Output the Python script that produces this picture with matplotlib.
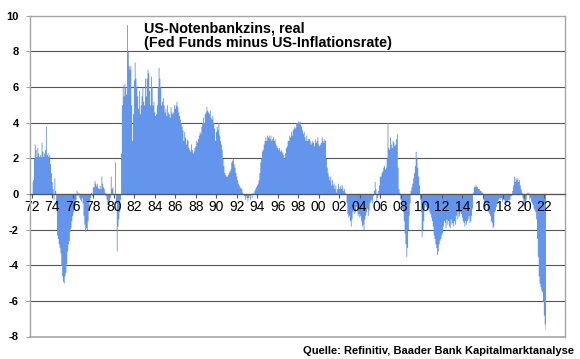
import numpy as np
import matplotlib
matplotlib.use('Agg')
import matplotlib.pyplot as plt

plt.rcParams['font.family'] = ['Liberation Sans', 'DejaVu Sans']

# =============================================================================
# Data: real Fed Funds rate (Fed Funds minus US inflation), monthly, in %
# =============================================================================
FIRST_YEAR = 1972

real_1970s = [
    0.7, 0.8, 2.0, 2.8, 2.5, 2.1, 2.6, 2.3, 2.1, 2.2, 2.1, 2.9,          # 1972
    2.4, 2.1, 2.3, 2.5, 3.8, 2.2, 2.3, 2.1, 2.2, 1.7, 1.2, 0.7,          # 1973
    0.3, -0.3, 0.9, 0.2, -0.6, -2.3, -2.5, -2.8, -3.0, -3.3, -4.0, -4.6, # 1974
    -4.9, -5.0, -4.6, -4.4, -3.9, -3.2, -2.8, -2.6, -2.1, -1.9, -1.5, -1.2,  # 1975
    -1.0, -0.8, -0.6, -0.3, 0.2, -0.1, 0.1, -0.2, -0.3, -0.4, -0.2, -0.5,    # 1976
    -1.2, -1.7, -2.1, -1.9, -2.0, -1.5, -0.9, -0.4, -0.2, 0.1, -0.1, 0.4,    # 1977
    0.4, 0.75, 0.6, 0.45, 0.6, 0.35, 0.3, 0.5, 0.3, 1.0, 0.6, 0.4,          # 1978
    0.3, 0.1, -0.1, -0.3, -0.6, -0.8, -0.5, -0.2, 1.0, 0.3, 0.4, 0.0,       # 1979
]
real_1980s = [
    0.0, 1.8, -0.5, -3.2, -1.8, -1.4, -1.0, -0.3, 2.3, 5.0, 6.1, 5.5,   # 1980
    6.2, 6.0, 5.6, 9.5, 8.0, 7.2, 7.0, 7.2, 5.0, 3.0, 4.5, 6.4,         # 1981
    7.4, 6.5, 6.0, 5.5, 4.8, 5.8, 4.5, 5.0, 5.5, 6.0, 5.2, 5.0,         # 1982
    6.5, 5.5, 6.5, 7.0, 6.8, 5.8, 5.0, 6.6, 6.0, 5.0, 5.2, 4.6,         # 1983
    4.4, 4.5, 5.0, 6.0, 7.1, 6.5, 6.0, 5.0, 5.2, 5.4, 5.0, 4.6,         # 1984
    4.8, 4.4, 5.0, 4.6, 4.5, 4.3, 4.9, 4.6, 4.5, 4.6, 5.0, 4.8,         # 1985
    5.0, 5.2, 4.9, 4.6, 4.4, 4.2, 4.0, 3.8, 3.6, 3.0, 3.5, 3.2,         # 1986
    2.8, 3.1, 3.0, 2.6, 2.5, 2.4, 2.8, 2.5, 2.3, 2.4, 2.6, 2.7,         # 1987
    3.0, 2.9, 3.1, 3.3, 3.5, 3.4, 3.8, 4.0, 4.3, 4.0, 4.5, 4.6,         # 1988
    4.9, 4.7, 4.6, 4.5, 4.7, 4.3, 4.2, 4.4, 4.0, 3.7, 3.0, 3.5,         # 1989
]
real_1990s = [
    3.8, 3.6, 4.0, 3.3, 3.0, 2.8, 2.5, 2.0, 1.6, 1.2, 1.1, 1.0,         # 1990
    1.0, 1.1, 1.2, 1.3, 1.4, 1.8, 1.9, 2.0, 1.7, 1.5, 1.2, 1.0,         # 1991
    0.8, 0.6, 0.5, 0.4, 0.35, 0.3, 0.1, 0.0, -0.1, -0.3, -0.1, -0.2,    # 1992
    -0.4, -0.2, -0.1, -0.3, 0.0, -0.2, 0.1, 0.0, 0.2, 0.3, 0.4, 0.5,    # 1993
    0.6, 0.8, 1.2, 1.8, 2.0, 2.4, 2.5, 2.8, 3.0, 3.2, 3.0, 3.3,         # 1994
    3.2, 3.3, 3.1, 3.3, 3.0, 3.1, 3.2, 3.0, 3.1, 2.8, 2.7, 2.6,         # 1995
    2.5, 2.6, 2.4, 2.5, 2.4, 2.3, 2.2, 2.0, 2.3, 2.6, 2.7, 3.0,         # 1996
    3.0, 3.3, 3.2, 3.5, 3.3, 3.6, 3.7, 3.8, 3.7, 4.0, 4.0, 4.1,         # 1997
    4.0, 4.1, 3.9, 3.8, 3.6, 3.4, 3.5, 3.2, 3.0, 3.3, 3.0, 3.1,         # 1998
    3.1, 3.0, 2.8, 2.9, 3.0, 2.9, 2.7, 3.1, 2.9, 3.0, 3.2, 2.8,         # 1999
]
real_2000s = [
    2.7, 2.8, 2.9, 3.2, 3.0, 2.9, 3.1, 3.0, 2.0, 1.5, 1.2, 1.0,         # 2000
    0.8, 1.0, 0.5, 0.8, 0.5, 0.6, 0.3, 0.5, 0.1, 0.3, 0.6, 0.3,         # 2001
    0.4, 0.5, 0.3, 0.5, 0.2, 0.3, 0.1, 0.0, -0.5, -1.1, -1.3, -1.2,     # 2002
    -1.5, -1.8, -1.4, -1.0, -0.8, -1.1, -1.0, -0.7, -0.9, -1.2, -1.1, -1.3,  # 2003
    -1.2, -1.5, -1.8, -1.7, -2.0, -1.4, -1.2, -1.0, -0.8, -1.2, -0.9, -0.5,  # 2004
    -0.4, -0.3, -0.5, -0.1, 0.2, 0.7, 0.3, -0.4, -0.2, 0.2, 0.5, 1.0,   # 2005
    1.0, 1.2, 1.3, 1.5, 1.6, 1.4, 1.5, 2.0, 4.0, 2.6, 2.5, 3.2,         # 2006
    2.8, 2.6, 3.0, 2.9, 2.7, 2.8, 3.1, 3.4, 1.5, 0.3, 0.1, -0.3,        # 2007
    -0.4, -0.8, -1.0, -1.5, -2.2, -2.8, -3.5, -3.0, -2.0, -1.2, -0.5, 0.2,   # 2008
    0.4, 0.6, 0.9, 1.2, 1.6, 2.4, 2.0, 1.5, 1.0, 0.5, -0.3, -1.0,       # 2009
]
real_2010s = [
    -2.4, -2.0, -1.5, -0.8, -0.6, -0.7, -0.8, -0.9, -0.8, -1.0, -1.1, -1.3,  # 2010
    -1.5, -1.8, -2.3, -2.5, -2.8, -3.0, -3.4, -3.2, -2.8, -2.6, -2.5, -2.3,  # 2011
    -2.2, -1.8, -1.5, -1.6, -1.9, -1.4, -1.7, -1.5, -1.8, -1.9, -1.4, -1.7,  # 2012
    -1.6, -1.8, -1.5, -1.7, -1.2, -1.4, -1.0, -1.3, -1.2, -1.0, -1.1, -1.3,  # 2013
    -1.5, -1.6, -1.8, -1.5, -1.7, -1.5, -1.4, -1.2, -1.6, -1.5, -1.2, -0.8,  # 2014
    0.1, 0.4, 0.5, 0.4, 0.5, 0.4, 0.3, 0.3, 0.2, 0.2, 0.1, 0.1,         # 2015
    -0.3, -0.6, -0.8, -0.5, -0.6, -0.9, -1.0, -1.1, -1.2, -1.5, -1.6, -1.9,  # 2016
    -1.8, -1.0, -0.9, -0.7, -0.5, -0.4, -0.3, -0.2, -0.3, -0.2, -0.4, -0.3,  # 2017
    -0.3, -0.4, -0.4, -0.5, -0.4, -0.3, -0.4, -0.3, -0.1, -0.1, 0.2, 0.5,    # 2018
    1.0, 0.7, 0.9, 0.8, 0.9, 0.7, 0.8, 0.5, 0.3, 0.1, -0.2, -0.4,       # 2019
]
real_2020s = [
    -0.6, -0.8, -0.3, 0.1, 0.0, 0.1, -0.3, -0.2, -0.4, -0.5, -0.6, -0.8,     # 2020
    -0.9, -1.0, -1.4, -2.5, -3.5, -4.6, -5.0, -5.2, -5.4, -5.5, -6.0, -6.8,  # 2021
    -7.3, -7.6,                                                              # 2022
]

YEAR_TICKS = list(range(1972, 2023, 2))
Y_TICKS = list(range(-8, 11, 2))

TITLE = 'US-Notenbankzins, real\n(Fed Funds minus US-Inflationsrate)'
SOURCE = 'Quelle: Refinitiv, Baader Bank Kapitalmarktanalyse'

values = np.array(real_1970s + real_1980s + real_1990s + real_2000s
                  + real_2010s + real_2020s)
dates = FIRST_YEAR + (np.arange(len(values)) + 0.5) / 12

# =============================================================================
# Plot
# =============================================================================
BLUE = '#6495ED'
GRID = '#555555'
FRAME = '#a6a6a6'

fig = plt.figure(figsize=(5.8, 3.59), dpi=100)
ax = fig.add_axes([30 / 580, 1 - 336.5 / 359, 535 / 580, (336.5 - 15.7) / 359])

# gridlines behind the area, tick labels on top of it
for v in Y_TICKS[1:-1]:
    ax.axhline(v, color=GRID, linewidth=0.8, zorder=0.5)
ax.fill_between(dates, 0, values, step='mid', color=BLUE, linewidth=0, zorder=1)

ax.set_xlim(1971.83, 2024.03)
ax.set_ylim(-8, 10)

ax.set_yticks(Y_TICKS)
ax.set_yticklabels([str(v) for v in Y_TICKS], fontsize=8, fontweight='bold')
ax.set_xticks(YEAR_TICKS)
ax.set_xticklabels([f'{y % 100:02d}' for y in YEAR_TICKS],
                   fontsize=8, fontweight='bold')

# x axis runs through zero
ax.spines['bottom'].set_position(('data', 0))
ax.spines['bottom'].set_color(GRID)
ax.spines['bottom'].set_linewidth(0.9)
for side in ['left', 'right', 'top']:
    ax.spines[side].set_color(FRAME)
    ax.spines[side].set_linewidth(1.0)
ax.axhline(-8, color=FRAME, linewidth=1.2, clip_on=False)

ax.tick_params(axis='x', direction='out', length=3, width=0.8, color=GRID,
               pad=1.5)
ax.tick_params(axis='y', direction='out', length=3, width=0.8, color=FRAME,
               pad=5)

fig.text(144 / 580, 1 - 47.5 / 359, TITLE, fontsize=10.4, fontweight='bold',
         ha='left', va='baseline', linespacing=1.1)
fig.text(574 / 580, 1 - 354 / 359, SOURCE, fontsize=8, fontweight='bold',
         ha='right', va='baseline')

fig.savefig('out.png', dpi=100)
